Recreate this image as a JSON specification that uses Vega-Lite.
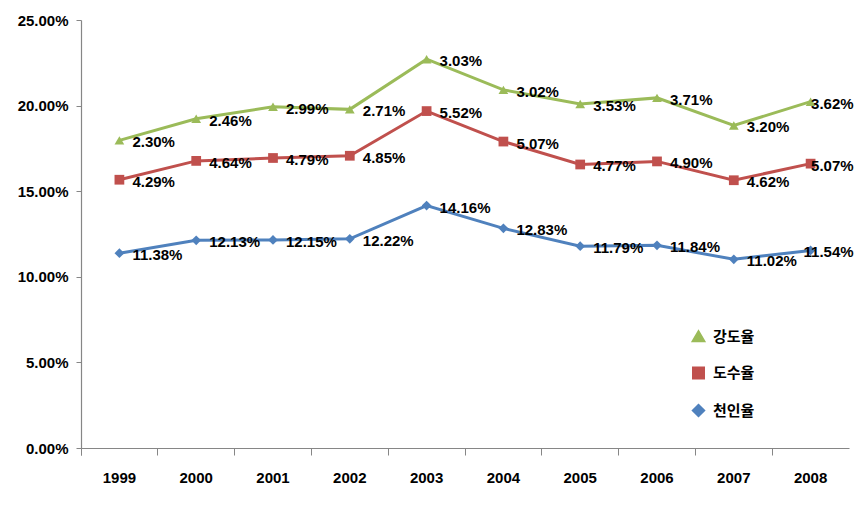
{
  "$schema": "https://vega.github.io/schema/vega-lite/v6.json",
  "width": 768,
  "height": 428,
  "autosize": "none",
  "padding": {"left": 81, "top": 20, "right": 8, "bottom": 57},
  "background": "white",
  "config": {"view": {"stroke": null}, "font": "Liberation Sans"},
  "data": {"values": [
    {"year": "1999", "series": "천인율", "value": 0.1138},
    {"year": "2000", "series": "천인율", "value": 0.1213},
    {"year": "2001", "series": "천인율", "value": 0.1215},
    {"year": "2002", "series": "천인율", "value": 0.1222},
    {"year": "2003", "series": "천인율", "value": 0.1416},
    {"year": "2004", "series": "천인율", "value": 0.1283},
    {"year": "2005", "series": "천인율", "value": 0.1179},
    {"year": "2006", "series": "천인율", "value": 0.1184},
    {"year": "2007", "series": "천인율", "value": 0.1102},
    {"year": "2008", "series": "천인율", "value": 0.1154},
    {"year": "1999", "series": "도수율", "value": 0.0429},
    {"year": "2000", "series": "도수율", "value": 0.0464},
    {"year": "2001", "series": "도수율", "value": 0.0479},
    {"year": "2002", "series": "도수율", "value": 0.0485},
    {"year": "2003", "series": "도수율", "value": 0.0552},
    {"year": "2004", "series": "도수율", "value": 0.0507},
    {"year": "2005", "series": "도수율", "value": 0.0477},
    {"year": "2006", "series": "도수율", "value": 0.0490},
    {"year": "2007", "series": "도수율", "value": 0.0462},
    {"year": "2008", "series": "도수율", "value": 0.0507},
    {"year": "1999", "series": "강도율", "value": 0.0230},
    {"year": "2000", "series": "강도율", "value": 0.0246},
    {"year": "2001", "series": "강도율", "value": 0.0299},
    {"year": "2002", "series": "강도율", "value": 0.0271},
    {"year": "2003", "series": "강도율", "value": 0.0303},
    {"year": "2004", "series": "강도율", "value": 0.0302},
    {"year": "2005", "series": "강도율", "value": 0.0353},
    {"year": "2006", "series": "강도율", "value": 0.0371},
    {"year": "2007", "series": "강도율", "value": 0.0320},
    {"year": "2008", "series": "강도율", "value": 0.0362}
  ]},
  "transform": [
    {"stack": "value", "groupby": ["year"], "sort": [{"field": "series", "order": "descending"}], "as": ["y0", "y1"]}
  ],
  "encoding": {
    "x": {
      "field": "year", "type": "ordinal",
      "scale": {"type": "band", "paddingInner": 0, "paddingOuter": 0},
      "axis": {
        "title": null, "labelAngle": 0, "bandPosition": 0, "tickExtra": true,
        "domainColor": "#868686", "tickColor": "#868686", "tickSize": 7, "domainWidth": 1.2,
        "labelFont": "Liberation Sans", "labelFontWeight": "bold", "labelFontSize": 15, "labelColor": "#000000",
        "labelPadding": 15
      }
    },
    "y": {
      "field": "y1", "type": "quantitative",
      "scale": {"domain": [0, 0.25], "nice": false},
      "axis": {
        "title": null, "values": [0, 0.05, 0.1, 0.15, 0.2, 0.25], "grid": false, "format": ".2%",
        "domainColor": "#868686", "tickColor": "#868686", "tickSize": 5, "domainWidth": 1.2,
        "labelFont": "Liberation Sans", "labelFontWeight": "bold", "labelFontSize": 15, "labelColor": "#000000",
        "labelPadding": 8
      }
    },
    "color": {
      "field": "series", "type": "nominal",
      "scale": {"domain": ["강도율", "도수율", "천인율"], "range": ["#9BBB59", "#C0504D", "#4F81BD"]},
      "legend": {
        "orient": "none", "legendX": 606, "legendY": 309, "title": null,
        "labelFont": "Noto Sans CJK KR", "labelFontSize": 15, "labelFontWeight": "bold", "labelColor": "#000000",
        "symbolSize": 100, "symbolStrokeWidth": 3, "rowPadding": 14.5, "labelOffset": 7, "symbolOffset": 4
      }
    }
  },
  "layer": [
    {"mark": {"type": "line", "strokeWidth": 3}, "encoding": {}},
    {
      "mark": {"type": "point", "filled": true, "opacity": 1, "size": 95},
      "encoding": {
        "shape": {
          "field": "series", "type": "nominal",
          "scale": {"domain": ["강도율", "도수율", "천인율"], "range": ["triangle-up", "square", "diamond"]},
          "legend": null
        }
      }
    },
    {
      "transform": [{"filter": "datum.year != '2008'"}],
      "mark": {"type": "text", "align": "left", "baseline": "middle", "dx": 13, "dy": 2, "font": "Liberation Sans", "fontWeight": "bold", "fontSize": 15, "color": "#000000"},
      "encoding": {"text": {"field": "value", "type": "quantitative", "format": ".2%"}, "color": {"value": "#000000"}}
    },
    {
      "transform": [{"filter": "datum.year == '2008'"}],
      "mark": {"type": "text", "align": "right", "baseline": "middle", "dx": 43, "dy": 2, "font": "Liberation Sans", "fontWeight": "bold", "fontSize": 15, "color": "#000000"},
      "encoding": {"text": {"field": "value", "type": "quantitative", "format": ".2%"}, "color": {"value": "#000000"}}
    }
  ]
}
